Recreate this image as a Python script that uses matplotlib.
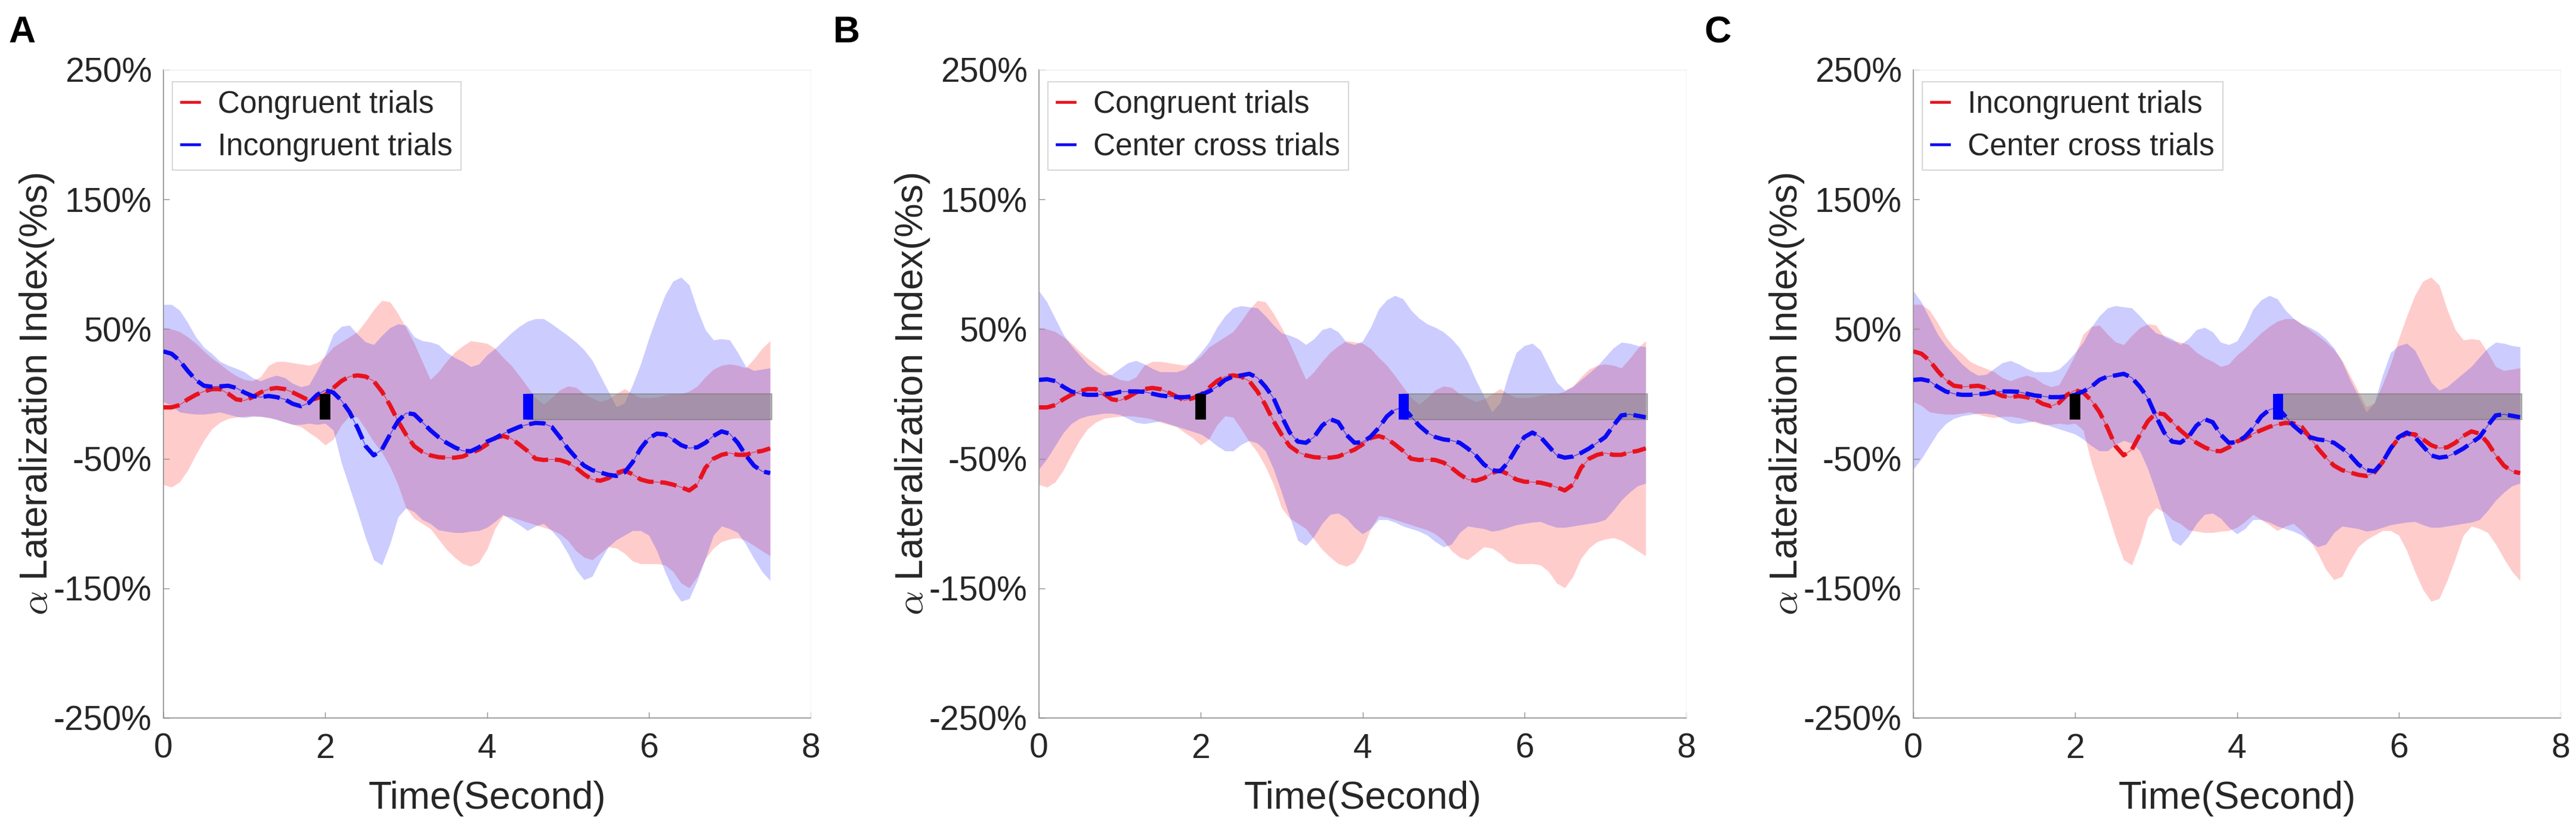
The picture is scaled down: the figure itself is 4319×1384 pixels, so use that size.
import numpy as np
import matplotlib
matplotlib.use("Agg")
import matplotlib.pyplot as plt
from matplotlib.patches import Rectangle
from matplotlib.lines import Line2D

plt.rcParams['font.family'] = ['Liberation Sans', 'DejaVu Sans']
plt.rcParams['mathtext.fontset'] = 'cm'

# ---------------- data (percent) ----------------
TIME = np.round(np.linspace(0.0, 7.5, 76), 2)

CONG_MEAN = [-10.4, -10.4, -8.6, -4.2, -0.7, 1.9, 3.7, 3.7, 0.2, -4.2,
             -5.1, -2.5, 1.1, 3.7, 4.6, 3.7, 1.1, -1.9, -5.1, -3.3,
             -0.7, 4.6, 9.9, 13.4, 14.3, 13.4, 9.9, 1.9, -8.6, -21.0,
             -31.5, -40.3, -44.7, -47.4, -48.8, -49.2, -49.2, -48.3, -45.6, -43.0,
             -39.0, -34.0, -32.5, -34.5, -39.0, -44.0, -50.0, -51.0, -50.5, -51.0,
             -53.0, -57.0, -62.0, -66.0, -67.0, -65.0, -61.0, -59.0, -62.0, -66.0,
             -67.7, -68.0, -68.5, -70.0, -72.0, -74.5, -70.0, -57.0, -50.0, -47.0,
             -45.6, -47.0, -47.0, -45.0, -44.0, -42.0]
CONG_UPPER = [51, 50, 48, 44, 39, 33, 27.5, 23, 18, 14,
              11, 10, 13, 22, 25, 25, 24, 23, 22, 24,
              29, 36, 40, 44, 48, 56, 65, 72, 71, 62,
              51, 39, 25, 11, 17, 25, 32, 37, 41, 40,
              39, 35, 28, 22, 14, 5.5, -3, -8, -3, 3,
              6, 5, 0, -3, -6, -4, 0, 4, 0, -3,
              -3, -2.5, -1, 0, 0, 2, 6, 13, 19, 22,
              23, 22, 20, 27, 35, 41]
CONG_LOWER = [-70, -72, -68, -59, -47, -36, -27, -22, -19, -18,
              -17.4, -17, -17.4, -18.3, -19.5, -21.8, -23.6, -25.4, -29.8, -34,
              -39.5, -35, -24, -17, -18, -27, -37, -45, -56, -70,
              -88, -96, -100, -104, -112, -120, -126, -131, -133, -130,
              -120, -104, -94, -95, -97, -99, -101, -103, -105, -108,
              -113, -121, -126, -128, -123, -118, -119, -123, -129, -131,
              -131, -131, -132, -137, -146, -149.6, -141, -127, -119, -114,
              -112, -111, -113, -117, -121, -125]

INCONG_MEAN = [32.8, 31.0, 25.7, 17.8, 10.8, 6.3, 5.5, 5.8, 6.3, 4.6,
               1.1, -1.6, -2.5, -1.6, -2.5, -4.2, -7.7, -9.5, -6.9, -0.7,
               2.8, 1.1, -5.1, -13.9, -26.2, -40.3, -47.4, -43.0, -31.5, -21.0,
               -14.8, -15.7, -21.8, -28.0, -33.3, -37.7, -41.2, -43.9, -44.2, -41.2,
               -36.8, -34.2, -30.7, -28.0, -25.4, -23.6, -22.4, -22.7, -25.4, -33.3,
               -42.1, -49.2, -55.3, -58.8, -60.6, -62.4, -63.3, -60.6, -52.7, -42.1,
               -34.2, -30.7, -31.2, -35.1, -39.5, -41.8, -41.2, -37.7, -32.4, -28.9,
               -30.7, -37.7, -47.4, -55.3, -59.7, -61.1]
INCONG_UPPER = [69, 69, 64.5, 55, 44, 36, 31, 25, 22, 19.6,
                17, 12.5, 10, 12.5, 14.3, 12.5, 8, 5.5, 7, 18,
                30, 46, 52, 53, 46, 40, 38, 45, 51, 54,
                53, 44, 41, 40, 38, 32, 28, 25, 21, 23,
                30, 35, 41, 47, 52, 56, 58, 58, 54, 49.5,
                45, 40, 34, 26, 14, 2, -10, -7, 7, 23,
                42.5, 60, 76, 87, 90, 84, 65, 49.5, 41.6, 42.5,
                41.6, 32, 21, 18, 19, 20]
INCONG_LOWER = [-6, -9, -14, -15, -15.7, -15.7, -15, -14, -15.7, -17.4,
                -18.3, -17.4, -17.4, -18.3, -20, -21.8, -23.6, -23.6, -22.7, -23.6,
                -22.7, -28, -53, -72, -91, -111, -128, -132, -116, -95,
                -88, -91, -97, -100, -105, -106, -107, -107, -106, -105.5,
                -103, -98.5, -93, -97, -101, -105.5, -102, -100, -105.5, -112.6,
                -123, -135.5, -143.4, -140.8, -128.4, -118, -112.6, -109, -105.5, -105.5,
                -109, -121, -137, -151, -160, -158, -144, -127, -109, -102,
                -104, -107, -116, -127, -137, -144]

CROSS_MEAN = [10.8, 11.3, 9.9, 5.5, 1.9, 0.2, -0.7, -0.7, -0.3, 0.2,
              1.6, 1.9, 1.9, 1.6, 0.2, -1.2, -1.9, -2.5, -2.5, -1.9,
              -0.7, 1.9, 5.5, 10.8, 13.4, 14.3, 15.5, 12.5, 5.5, -3.3,
              -17.4, -29.8, -36.8, -37.7, -33.3, -24.5, -19.5, -21.8, -31.5, -37.7,
              -37.2, -33.0, -26.2, -17.4, -12.2, -10.4, -17.4, -24.5, -29.8, -33.3,
              -35.1, -35.9, -37.7, -42.1, -47.4, -54.4, -58.8, -59.7, -52.7, -42.1,
              -33.3, -29.8, -33.3, -40.3, -47.4, -49.2, -48.3, -45.6, -42.1, -37.7,
              -33.3, -24.5, -16.6, -15.7, -16.9, -18.0]
CROSS_UPPER = [79.5, 70.7, 58.3, 46, 37.2, 30.1, 23.1, 17.8, 14.3, 15,
               19.6, 24, 25.7, 23.1, 19.6, 17, 17, 17, 19, 24.8,
               31.9, 39.8, 51.3, 60.1, 66.3, 68, 67.1, 66.3, 60.1, 53,
               46.9, 45.1, 42.5, 38, 42.5, 49.5, 51.3, 47.8, 39.8, 38,
               40.7, 51.3, 65.4, 72.5, 75.9, 73.3, 64.5, 58.3, 53.9, 51.3,
               47.8, 42.5, 35.4, 24.8, 10.8, -1.6, -14, -6.9, 14.3, 31.9,
               37.2, 39, 33.7, 21.3, 9, 2.8, 5.5, 10.8, 16, 21.3,
               28.4, 35.4, 39.8, 39, 37.2, 36.3]
CROSS_LOWER = [-58, -50, -40, -30, -23, -19, -17, -16, -15, -15,
               -16, -19, -22, -23, -22, -21, -23, -25, -27, -29,
               -31, -35, -40, -44, -44, -39, -36, -38, -44, -58,
               -76, -95, -113, -117, -110, -100, -93, -92, -96, -103,
               -108, -104, -97, -97, -99, -102, -104, -106, -109, -114,
               -118, -116, -107, -102, -103, -104, -106, -105, -103, -101,
               -100, -99, -98.5, -101, -103, -103, -102, -101, -100, -99,
               -97, -90, -82, -76, -71, -69]

CONDITIONS = {
    'Congruent trials': (CONG_MEAN, CONG_LOWER, CONG_UPPER),
    'Incongruent trials': (INCONG_MEAN, INCONG_LOWER, INCONG_UPPER),
    'Center cross trials': (CROSS_MEAN, CROSS_LOWER, CROSS_UPPER),
}
PANELS = [('A', 'Congruent trials', 'Incongruent trials'),
          ('B', 'Congruent trials', 'Center cross trials'),
          ('C', 'Incongruent trials', 'Center cross trials')]

YTICKS = [250, 150, 50, -50, -150, -250]
YTICKLABELS = ['250%', '150%', '50%', '-50%', '-150%', '-250%']
XTICKS = [0, 2, 4, 6, 8]

CUE_TIME = 2.0          # black event marker
TARGET_TIME = 4.5       # blue event marker
SIG_START, SIG_END = 4.5, 7.52   # grey significance bar
MARK_LO, MARK_HI = -20, 0

# ---------------- layout ----------------
W, H = 4319, 1384
fig = plt.figure(figsize=(W / 100, H / 100), dpi=100)

RED = '#e8121e'
BLUE = '#0a0af5'
TXT = '#262626'
SPINE = '#8e8e8e'

ax_left_px = [274, 1742, 3208]
letter_px = [14, 1397, 2857]
ax_w_px = 1085
ax_top_px, ax_bot_px = 117, 1203

for i, (letter, red_key, blue_key) in enumerate(PANELS):
    L = ax_left_px[i]
    ax = fig.add_axes([L / W, 1 - ax_bot_px / H, ax_w_px / W, (ax_bot_px - ax_top_px) / H])

    rm, rlo, rup = CONDITIONS[red_key]
    bm, blo, bup = CONDITIONS[blue_key]

    ax.fill_between(TIME, rlo, rup, color='red', alpha=0.2, lw=0, zorder=1)
    ax.fill_between(TIME, blo, bup, color='blue', alpha=0.2, lw=0, zorder=1.1)

    ax.add_patch(Rectangle((SIG_START, MARK_LO), SIG_END - SIG_START, MARK_HI - MARK_LO,
                           facecolor='#808080', edgecolor='#707070', alpha=0.5, lw=1.5, zorder=2))

    for m, c in ((rm, RED), (bm, BLUE)):
        ax.plot(TIME, m, color=c, lw=1.2, alpha=0.55, zorder=3)
        ax.plot(TIME, m, color=c, lw=5.2, dashes=(3.8, 1.6), dash_capstyle='butt', zorder=3.2)

    ax.add_patch(Rectangle((CUE_TIME - 0.066, MARK_LO), 0.132, MARK_HI - MARK_LO,
                           facecolor='black', edgecolor='none', zorder=4))
    ax.add_patch(Rectangle((TARGET_TIME - 0.055, MARK_LO), 0.127, MARK_HI - MARK_LO,
                           facecolor='blue', edgecolor='none', zorder=4))

    ax.set_xlim(0, 8)
    ax.set_ylim(-250, 250)
    ax.set_xticks(XTICKS)
    ax.set_xticklabels([str(v) for v in XTICKS])
    ax.set_yticks(YTICKS)
    ax.set_yticklabels(YTICKLABELS)
    ax.tick_params(axis='both', direction='in', length=7, width=1.0, color=SPINE,
                   labelcolor=TXT, labelsize=41)
    ax.tick_params(axis='y', pad=14)
    ax.tick_params(axis='x', pad=18)
    for s in ('left', 'bottom'):
        ax.spines[s].set_color(SPINE)
        ax.spines[s].set_linewidth(1.2)
    ax.spines['top'].set_color('#e8e8e8')
    ax.spines['right'].set_color('#f4f4f4')
    ax.patch.set_facecolor('white')

    handles = [Line2D([0], [0], color=RED, lw=3.4), Line2D([0], [0], color=BLUE, lw=3.4)]
    leg = ax.legend(handles, [red_key, blue_key], loc='upper left',
                    bbox_to_anchor=(0.014, 0.982), borderaxespad=0, fontsize=37,
                    frameon=True, fancybox=False, edgecolor='#c8c8c8',
                    handlelength=0.6, handletextpad=0.6, borderpad=0.28,
                    labelspacing=0.42)
    leg.get_frame().set_linewidth(1.3)
    for t in leg.get_texts():
        t.set_color(TXT)

    cx = (L + ax_w_px / 2) / W
    fig.text(cx, 1 - 1338 / H, 'Time(Second)', ha='center', va='center',
             fontsize=46, color=TXT)
    fig.text((L - 212) / W, 1 - 660 / H, r'$\alpha$ Lateralization Index(%s)',
             rotation=90, ha='center', va='center', fontsize=46, color=TXT)
    fig.text(letter_px[i] / W, 1 - 71 / H, letter, ha='left', va='baseline',
             fontsize=45, fontweight='bold', color='black')

fig.savefig('out.png', dpi=100, facecolor='white')
